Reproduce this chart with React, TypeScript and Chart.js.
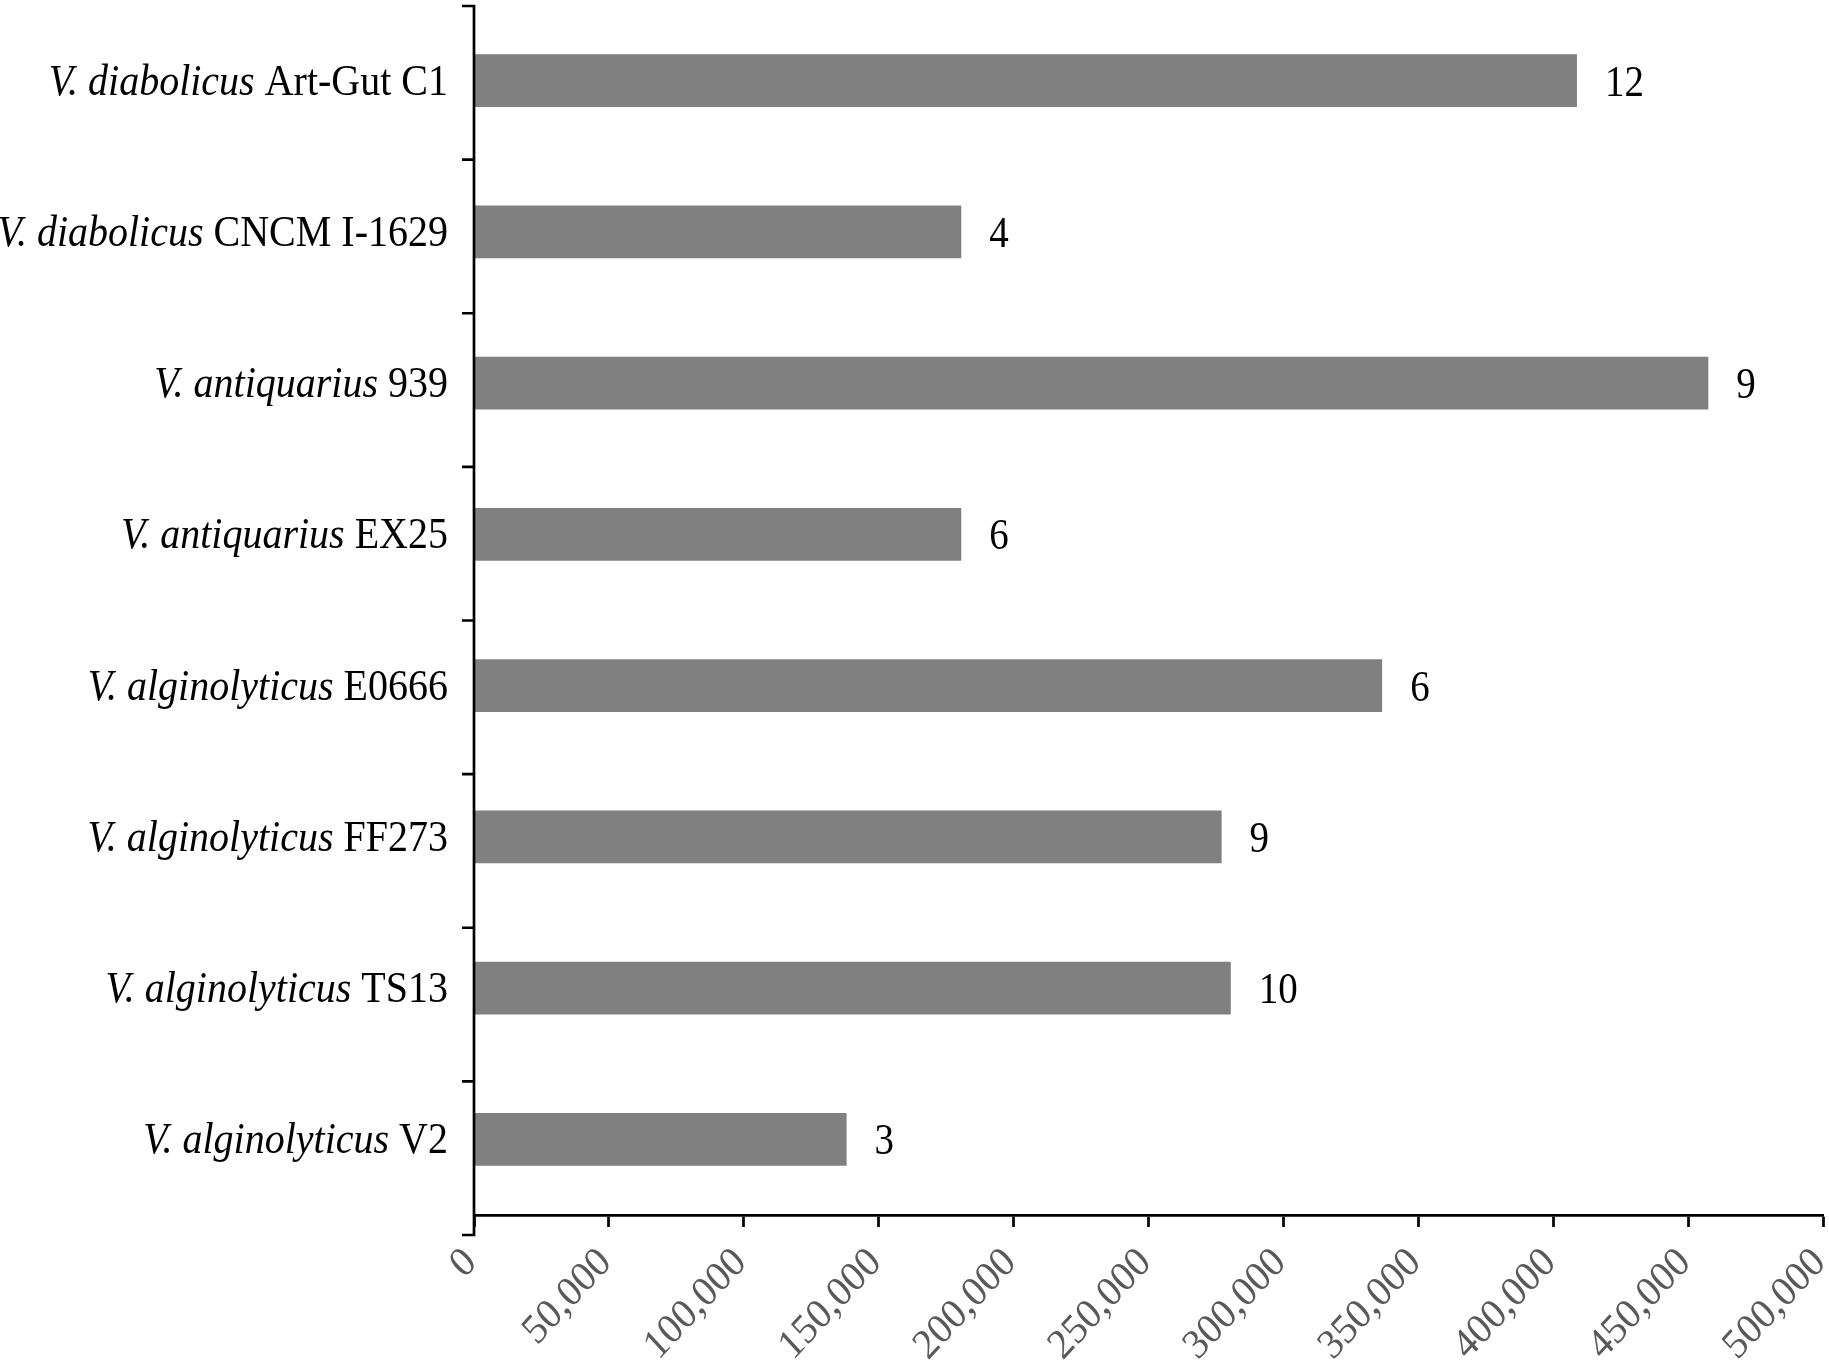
import React, { useEffect, useRef } from "react";
import { Chart, registerables } from "chart.js";

Chart.register(...registerables);

// ---- data ----
const species: string[] = [
  "V. diabolicus",
  "V. diabolicus",
  "V. antiquarius",
  "V. antiquarius",
  "V. alginolyticus",
  "V. alginolyticus",
  "V. alginolyticus",
  "V. alginolyticus",
];
const strains: string[] = ["Art-Gut C1", "CNCM I-1629", "939", "EX25", "E0666", "FF273", "TS13", "V2"];
const values: number[] = [408800, 180600, 457500, 180600, 336600, 277100, 280500, 138100];
const counts: number[] = [12, 4, 9, 6, 6, 9, 10, 3];
const xMin = 0;
const xMax = 500000;
const xStep = 50000;

const FONT = '"Liberation Serif", "Times New Roman", serif';
const STRETCH = 1.12;
const X_STRETCH = 1.08;

const textPlugin = {
  id: "customText",
  afterDraw(chart: any) {
    const ctx: CanvasRenderingContext2D = chart.ctx;
    const xs = chart.scales.x;
    const ys = chart.scales.y;
    const area = chart.chartArea;
    ctx.save();

    // y axis line with Excel-like ticks
    const axisX = area.left;
    const yTop = area.top + 1;
    const yBottom = area.bottom + 20;
    ctx.strokeStyle = "#000";
    ctx.lineWidth = 2.7;
    ctx.beginPath();
    ctx.moveTo(axisX, yTop - 1.3);
    ctx.lineTo(axisX, yBottom + 1.3);
    const n = strains.length;
    for (let k = 0; k <= n; k++) {
      const ty = yTop + ((yBottom - yTop) * k) / n;
      ctx.moveTo(axisX - 12, ty);
      ctx.lineTo(axisX, ty);
    }
    ctx.stroke();

    // category labels (italic species + roman strain)
    ctx.fillStyle = "#000";
    ctx.textBaseline = "alphabetic";
    const labelRight = 448;
    for (let i = 0; i < n; i++) {
      const cy = ys.getPixelForValue(i);
      const base = cy + 14;
      ctx.font = `40px ${FONT}`;
      const strainW = ctx.measureText(strains[i]).width;
      const spaceW = ctx.measureText(" ").width;
      ctx.save();
      ctx.translate(labelRight, base);
      ctx.scale(1, STRETCH);
      ctx.textAlign = "right";
      ctx.fillText(strains[i], 0, 0);
      ctx.font = `italic 40px ${FONT}`;
      ctx.fillText(species[i], -strainW - spaceW, 0);
      ctx.restore();
    }

    // data labels
    ctx.font = `39px ${FONT}`;
    for (let i = 0; i < n; i++) {
      const cy = ys.getPixelForValue(i);
      const x = xs.getPixelForValue(values[i]) + 28;
      ctx.save();
      ctx.translate(x, cy + 15);
      ctx.scale(1, STRETCH);
      ctx.textAlign = "left";
      ctx.fillText(String(counts[i]), 0, 0);
      ctx.restore();
    }

    // rotated x tick labels
    ctx.fillStyle = "#595959";
    ctx.font = `39px ${FONT}`;
    for (const t of xs.ticks) {
      const px = xs.getPixelForValue(t.value);
      ctx.save();
      ctx.translate(px + 4, area.bottom + 49);
      ctx.scale(1, X_STRETCH);
      ctx.rotate(-Math.PI / 4);
      ctx.textAlign = "right";
      ctx.textBaseline = "alphabetic";
      ctx.fillText(Number(t.value).toLocaleString("en-US"), 0, 0);
      ctx.restore();
    }

    ctx.restore();
  },
};

export default function App() {
  const ref = useRef<HTMLCanvasElement | null>(null);

  useEffect(() => {
    document.body.style.margin = "0";
    const canvas = ref.current;
    if (!canvas) return;
    const chart = new Chart(canvas, {
      type: "bar",
      data: {
        labels: strains.map((s, i) => `${species[i]} ${s}`),
        datasets: [
          {
            data: values,
            backgroundColor: "#808080",
            borderWidth: 0,
            categoryPercentage: 1,
            barPercentage: 0.35,
          },
        ],
      },
      plugins: [textPlugin],
      options: {
        indexAxis: "y",
        animation: false,
        responsive: false,
        devicePixelRatio: 1,
        layout: { padding: { top: 5, right: 6, left: 0, bottom: 0 } },
        plugins: {
          legend: { display: false },
          tooltip: { enabled: false },
          title: { display: false },
        },
        scales: {
          x: {
            type: "linear",
            position: "bottom",
            min: xMin,
            max: xMax,
            ticks: { stepSize: xStep, display: false },
            grid: {
              drawOnChartArea: false,
              drawTicks: true,
              tickLength: 12,
              tickColor: "#000",
              tickWidth: 2.7,
            },
            border: { display: true, color: "#000", width: 2.7 },
            afterFit: (scale: any) => {
              scale.height = 145;
            },
          },
          y: {
            type: "category",
            position: "left",
            offset: true,
            ticks: { display: false },
            grid: { display: false, drawTicks: false },
            border: { display: false },
            afterFit: (scale: any) => {
              scale.width = 474;
            },
          },
        },
      },
    } as any);
    return () => chart.destroy();
  }, []);

  return (
    <div style={{ width: 1829, height: 1360, background: "#fff" }}>
      <canvas ref={ref} width={1829} height={1360} style={{ display: "block", width: 1829, height: 1360 }} />
    </div>
  );
}
